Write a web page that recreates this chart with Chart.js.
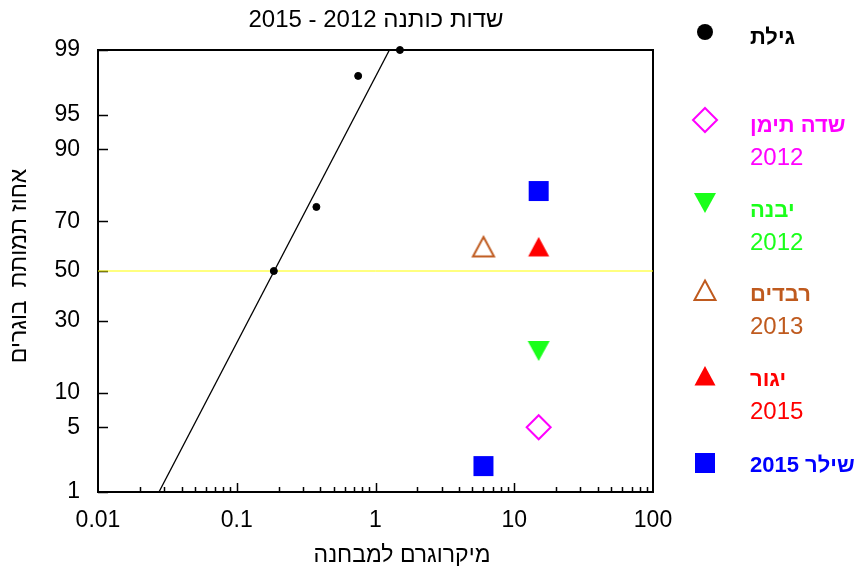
<!DOCTYPE html>
<html>
<head>
<meta charset="utf-8">
<script src="https://cdn.jsdelivr.net/npm/chart.js@4.4.1/dist/chart.umd.min.js"></script>
<style>
  body { margin: 0; background: #fff; }
  canvas { display: block; }
</style>
</head>
<body>
<canvas id="chart" width="866" height="577"></canvas>
<script>
// Axis ticks: dose (micrograms per vial, log) and mortality percent (probit)
const xTicks = [0.01, 0.1, 1, 10, 100];
const yTicks = [1, 5, 10, 30, 50, 70, 90, 95, 99];

// Gilat - measured points and fitted probit line
const gilatDose = [0.185, 0.375, 0.75, 1.5];
const gilatMort = [50, 75, 98, 99];
const gilatFitDose = [0.0275, 1.26];
const gilatFitMort = [1, 99];

// Other fields
const teimanDose = [15];
const teimanMort = [5];
const yavneDose = [15];
const yavneMort = [20];
const revadimDose = [6];
const revadimMort = [60];
const yagurDose = [15];
const yagurMort = [60];
const shilerDose = [15, 6];
const shilerMort = [80, 2];

// LC50 reference line
const refDose = [0.01, 100];
const refMort = [50, 50];

const chartTitle = 'שדות כותנה 2012 - 2015';
const xTitle = 'מיקרוגרם למבחנה';
const yTitle = 'אחוז תמותת  בוגרים';

const legendNames = ['גילת', 'שדה תימן', 'יבנה', 'רבדים', 'יגור', 'שילר 2015'];
const legendYears = ['', '2012', '2012', '2013', '2015', ''];

const BROWN = '#bf5a1e';
const GREEN = '#1aff1a';

// inverse normal CDF (Acklam)
function probit(p) {
    const a = [-39.69683028665376, 220.9460984245205, -275.9285104469687, 138.3577518672690, -30.66479806614716, 2.506628277459239];
    const b = [-54.47609879822406, 161.5858368580409, -155.6989798598866, 66.80131188771972, -13.28068155288572];
    const c = [-7.784894002430293e-03, -0.3223964580411365, -2.400758277161838, -2.549732539343734, 4.374664141464968, 2.938163982698783];
    const d = [7.784695709041462e-03, 0.3224671290700398, 2.445134137142996, 3.754408661907416];
    const pl = 0.02425;
    let q, r;
    if (p < pl) {
        q = Math.sqrt(-2 * Math.log(p));
        return (((((c[0]*q+c[1])*q+c[2])*q+c[3])*q+c[4])*q+c[5]) / ((((d[0]*q+d[1])*q+d[2])*q+d[3])*q+1);
    }
    if (p <= 1 - pl) {
        q = p - 0.5; r = q * q;
        return (((((a[0]*r+a[1])*r+a[2])*r+a[3])*r+a[4])*r+a[5])*q / (((((b[0]*r+b[1])*r+b[2])*r+b[3])*r+b[4])*r+1);
    }
    q = Math.sqrt(-2 * Math.log(1 - p));
    return -(((((c[0]*q+c[1])*q+c[2])*q+c[3])*q+c[4])*q+c[5]) / ((((d[0]*q+d[1])*q+d[2])*q+d[3])*q+1);
}

function pts(dose, mort) {
    return dose.map((x, i) => ({ x: x, y: probit(mort[i] / 100) }));
}

const FONT = '"Liberation Sans", Arial, sans-serif';
Chart.defaults.font.family = FONT;
Chart.defaults.color = '#000';

// marker shapes (legend + triangle point images)
function drawMarker(ctx, kind, x, y, color, filled) {
    ctx.save();
    ctx.beginPath();
    if (kind === 'circle') {
        ctx.arc(x, y, 8, 0, Math.PI * 2);
    } else if (kind === 'diamond') {
        ctx.moveTo(x, y - 12); ctx.lineTo(x + 12, y); ctx.lineTo(x, y + 12); ctx.lineTo(x - 12, y);
        ctx.closePath();
    } else if (kind === 'triDown') {
        ctx.moveTo(x - 11, y - 10); ctx.lineTo(x + 11, y - 10); ctx.lineTo(x, y + 10);
        ctx.closePath();
    } else if (kind === 'tri') {
        ctx.moveTo(x, y - 10); ctx.lineTo(x + 10.5, y + 9.5); ctx.lineTo(x - 10.5, y + 9.5);
        ctx.closePath();
    } else {
        ctx.rect(x - 10, y - 10, 20, 20);
    }
    if (filled) {
        ctx.fillStyle = color;
        ctx.fill();
    } else {
        ctx.strokeStyle = color;
        ctx.lineWidth = 2;
        ctx.stroke();
    }
    ctx.restore();
}

// triangles centred on their box, like the original markers
function markerImage(kind, color, filled) {
    const c = document.createElement('canvas');
    c.width = 26;
    c.height = 26;
    drawMarker(c.getContext('2d'), kind, 13, 13, color, filled);
    return c;
}

const frame = {
    id: 'frame',
    beforeDatasetsDraw(chart) {
        const ctx = chart.ctx;
        const a = chart.chartArea;
        const xs = chart.scales.x, ys = chart.scales.y;
        ctx.save();
        ctx.strokeStyle = '#000';
        ctx.lineWidth = 1.5;
        // inward ticks on x axis: decades long, 2..9 short
        ctx.beginPath();
        for (let d = 0.01; d < 99; d *= 10) {
            for (let m = 1; m <= 9; m++) {
                if (m === 1 && d < 0.05) continue;
                const px = Math.round(xs.getPixelForValue(d * m)) + 0.5;
                const len = m === 1 ? 9 : 5;
                ctx.moveTo(px, a.bottom);
                ctx.lineTo(px, a.bottom - len);
            }
        }
        // inward ticks on y axis
        yTicks.forEach(p => {
            const py = Math.round(ys.getPixelForValue(probit(p / 100))) + 0.5;
            ctx.moveTo(a.left, py);
            ctx.lineTo(a.left + 10, py);
        });
        ctx.stroke();
        ctx.lineWidth = 2;
        ctx.strokeRect(a.left, a.top, a.right - a.left, a.bottom - a.top);
        ctx.restore();
    },
    afterDraw(chart) {
        const ctx = chart.ctx;
        ctx.save();
        ctx.direction = 'rtl';
        ctx.fillStyle = '#000';
        ctx.textBaseline = 'alphabetic';
        ctx.textAlign = 'center';
        ctx.font = '24px ' + FONT;
        ctx.fillText(chartTitle, 376, 27);
        ctx.font = '23px ' + FONT;
        ctx.fillText(xTitle, 402, 562);
        ctx.save();
        ctx.translate(26, 266);
        ctx.rotate(-Math.PI / 2);
        ctx.fillText(yTitle, 0, 0);
        ctx.restore();

        // legend
        const colors = ['#000', '#ff00ff', GREEN, BROWN, '#ff0000', '#0000ff'];
        const kinds = ['circle', 'diamond', 'triDown', 'tri', 'tri', 'square'];
        const filled = [true, false, true, false, true, true];
        const markY = [32, 120, 203, 290.5, 376, 463];
        const nameY = [44, 132, 217, 301, 386, 472];
        ctx.textAlign = 'left';
        legendNames.forEach((name, i) => {
            drawMarker(ctx, kinds[i], 705, markY[i], colors[i], filled[i]);
            ctx.fillStyle = colors[i];
            ctx.font = 'bold 22px ' + FONT;
            ctx.fillText(name, 750, nameY[i]);
            if (legendYears[i]) {
                ctx.font = '24px ' + FONT;
                ctx.fillText(legendYears[i], 750, nameY[i] + 33);
            }
        });
        ctx.restore();
    }
};

new Chart(document.getElementById('chart'), {
    type: 'scatter',
    data: {
        datasets: [
            {
                label: 'גילת',
                data: pts(gilatDose, gilatMort),
                pointStyle: 'circle',
                pointRadius: 3.5,
                backgroundColor: '#000',
                borderColor: '#000',
                borderWidth: 1,
                clip: false
            },
            {
                label: 'שדה תימן 2012',
                data: pts(teimanDose, teimanMort),
                pointStyle: 'rectRot',
                pointRadius: 12,
                backgroundColor: 'rgba(0,0,0,0)',
                borderColor: '#ff00ff',
                borderWidth: 2
            },
            {
                label: 'יבנה 2012',
                data: pts(yavneDose, yavneMort),
                pointStyle: markerImage('triDown', GREEN, true)
            },
            {
                label: 'רבדים 2013',
                data: pts(revadimDose, revadimMort),
                pointStyle: markerImage('tri', BROWN, false)
            },
            {
                label: 'יגור 2015',
                data: pts(yagurDose, yagurMort),
                pointStyle: markerImage('tri', '#ff0000', true)
            },
            {
                label: 'שילר 2015',
                data: pts(shilerDose, shilerMort),
                pointStyle: 'rect',
                pointRadius: 14.14,
                backgroundColor: '#0000ff',
                borderColor: '#0000ff',
                borderWidth: 0
            },
            {
                label: 'fit',
                data: pts(gilatFitDose, gilatFitMort),
                showLine: true,
                pointRadius: 0,
                borderColor: '#000',
                borderWidth: 1.3
            },
            {
                label: 'LC50',
                data: pts(refDose, refMort),
                showLine: true,
                pointRadius: 0,
                borderColor: '#ffff00',
                borderWidth: 1
            }
        ]
    },
    options: {
        responsive: false,
        animation: false,
        events: [],
        layout: { padding: { top: 50, right: 213, left: 0, bottom: 0 } },
        plugins: {
            legend: { display: false },
            tooltip: { enabled: false }
        },
        scales: {
            x: {
                type: 'logarithmic',
                min: 0.01,
                max: 100,
                grid: { display: false, drawTicks: false },
                border: { display: false },
                afterBuildTicks: scale => {
                    scale.ticks = xTicks.map(v => ({ value: v }));
                },
                afterFit: scale => { scale.height = 85; },
                ticks: {
                    autoSkip: false,
                    maxRotation: 0,
                    padding: 15,
                    font: { size: 23 },
                    callback: v => String(v)
                }
            },
            y: {
                type: 'linear',
                min: probit(0.01),
                max: probit(0.99),
                grid: { display: false, drawTicks: false },
                border: { display: false },
                afterBuildTicks: scale => {
                    scale.ticks = yTicks.map(p => ({ value: probit(p / 100) }));
                },
                afterFit: scale => { scale.width = 98; },
                ticks: {
                    autoSkip: false,
                    padding: 18,
                    font: { size: 23 },
                    callback: (v, i) => yTicks[i]
                }
            }
        }
    },
    plugins: [frame]
});
</script>
</body>
</html>
